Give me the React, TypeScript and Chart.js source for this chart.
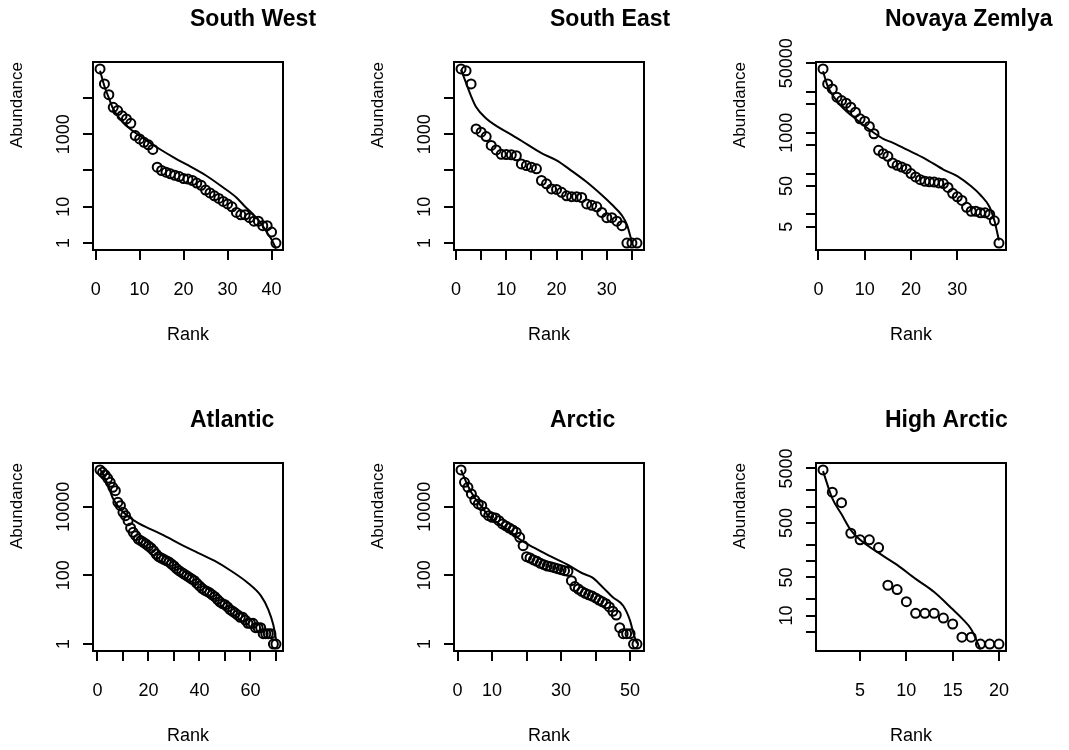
import React, { useEffect, useRef } from "react";
import { Chart, registerables } from "chart.js";

Chart.register(...registerables);

// ---------- data (abundance by rank; fitted curve) ----------
const swAbundance = [63000, 24300, 12300, 5500, 4480, 3240, 2640, 2000, 920, 740, 600, 510, 380, 123, 100, 90, 81, 74, 68, 60, 58, 53, 45, 39, 29, 24, 20, 17, 14, 12, 10, 7, 6, 6, 5, 4, 4, 3, 3, 2, 1];
const swFitRank = [1, 2, 3, 4, 6, 8, 11, 14, 18, 21, 25, 29, 32, 34, 36, 38, 39, 40, 41];
const swFitValue = [56000, 21000, 10000, 5000, 2240, 1350, 760, 430, 220, 140, 74, 34, 18, 10, 5.9, 3.0, 1.9, 1.26, 0.7];

const seAbundance = [63000, 56000, 24400, 1400, 1140, 860, 490, 370, 280, 275, 270, 255, 152, 137, 123, 111, 53, 43, 31, 30, 25, 20, 19, 19, 18, 12, 11, 10, 7, 5, 5, 4, 3, 1, 1, 1];
const seFitRank = [1, 2, 3, 4, 6, 8, 11, 13, 17, 20, 23, 26, 29, 31, 33, 34, 35];
const seFitValue = [60000, 26000, 11200, 5600, 2700, 1700, 980, 660, 300, 190, 98, 48, 21, 11.5, 5.8, 3.2, 1.05];

const nzAbundance = [36400, 15700, 11800, 7400, 6140, 5290, 4230, 3190, 2190, 1920, 1430, 945, 371, 307, 265, 182, 160, 145, 130, 100, 83, 71, 65, 63, 62, 59, 57, 46, 33, 27, 22, 15, 12, 12, 11, 11, 10, 7, 2];
const nzFitRank = [1, 2, 3, 5, 8, 11, 14, 16, 19, 23, 27, 30, 33, 35, 37, 38, 39];
const nzFitValue = [32000, 13800, 8500, 4400, 2200, 1200, 710, 575, 390, 234, 126, 87, 49, 30, 15, 7.2, 2.3];

const atAbundance = [117000, 100000, 83600, 66800, 51100, 36600, 29200, 13400, 10700, 6840, 5470, 3910, 2390, 1790, 1430, 1140, 1020, 915, 818, 715, 625, 523, 418, 350, 320, 292, 267, 245, 214, 187, 156, 137, 122, 109, 98, 87, 78, 70, 58, 49, 42, 37, 34, 31, 27, 24, 20, 17, 15, 14, 12, 10, 9, 8, 7, 6, 6, 5, 4, 4, 4, 3, 3, 3, 2, 2, 2, 2, 1, 1];
const atFitRank = [1, 4, 6, 9, 12, 16, 21, 26, 33, 39, 46, 52, 59, 64, 67, 69, 70];
const atFitValue = [126000, 44700, 17800, 8300, 5250, 3300, 2190, 1450, 776, 468, 263, 141, 60, 26, 10, 3.5, 1.4];

const arAbundance = [117000, 51100, 36600, 23400, 15600, 12000, 10700, 6840, 5470, 4890, 4680, 3910, 3130, 2740, 2390, 2090, 1790, 1280, 731, 350, 320, 280, 256, 224, 205, 187, 179, 167, 156, 146, 137, 131, 70, 47, 40, 34, 30, 27, 25, 22, 19, 17, 15, 12, 9, 7, 3, 2, 2, 2, 1, 1];
const arFitRank = [1, 3, 5, 7, 9, 12, 15, 18, 22, 27, 32, 36, 39, 42, 45, 48, 50, 51, 52];
const arFitValue = [117000, 40000, 17800, 10000, 5250, 3160, 2000, 1120, 650, 355, 200, 117, 87, 46, 23, 13, 4.8, 2, 1.05];

const haAbundance = [4700, 1840, 1180, 324, 245, 245, 177, 36, 30, 18, 11, 11, 11, 9, 7, 4, 4, 3, 3, 3];
const haFitRank = [1, 2, 3, 4, 5, 7, 9, 11, 13, 15, 16, 17, 18];
const haFitValue = [4470, 1410, 720, 370, 245, 141, 85, 47, 27, 13, 8.9, 5.6, 2.4];

// ---------- axis ticks and labels ----------
const swXTicks = [0, 10, 20, 30, 40];
const swXLabels = [0, 10, 20, 30, 40];
const seXTicks = [0, 5, 10, 15, 20, 25, 30, 35];
const seXLabels = [0, 10, 20, 30];
const nzXTicks = [0, 10, 20, 30];
const nzXLabels = [0, 10, 20, 30];
const atXTicks = [0, 10, 20, 30, 40, 50, 60, 70];
const atXLabels = [0, 20, 40, 60];
const arXTicks = [0, 10, 20, 30, 40, 50];
const arXLabels = [0, 10, 30, 50];
const haXTicks = [5, 10, 15, 20];
const haXLabels = [5, 10, 15, 20];

const decadeTicks = [1, 10, 100, 1000, 10000];
const decadeLabels = [1, 10, 1000];
const nzYTicks = [5, 10, 50, 100, 500, 1000, 5000, 10000, 50000];
const nzYLabels = [5, 50, 1000, 50000];
const wideYTicks = [1, 100, 10000];
const wideYLabels = [1, 100, 10000];
const haYTicks = [5, 10, 20, 50, 100, 200, 500, 1000, 2000, 5000];
const haYLabels = [10, 50, 500, 5000];

type Panel = {
  title: string;
  titleX: number;
  left: number;
  top: number;
  abundance: number[];
  fitRank: number[];
  fitValue: number[];
  xTicks: number[];
  xLabels: number[];
  yTicks: number[];
  yLabels: number[];
};

const panels: Panel[] = [
  { title: "South West", titleX: 190, left: 0, top: 0, abundance: swAbundance, fitRank: swFitRank, fitValue: swFitValue, xTicks: swXTicks, xLabels: swXLabels, yTicks: decadeTicks, yLabels: decadeLabels },
  { title: "South East", titleX: 189, left: 361, top: 0, abundance: seAbundance, fitRank: seFitRank, fitValue: seFitValue, xTicks: seXTicks, xLabels: seXLabels, yTicks: decadeTicks, yLabels: decadeLabels },
  { title: "Novaya Zemlya", titleX: 162, left: 723, top: 0, abundance: nzAbundance, fitRank: nzFitRank, fitValue: nzFitValue, xTicks: nzXTicks, xLabels: nzXLabels, yTicks: nzYTicks, yLabels: nzYLabels },
  { title: "Atlantic", titleX: 190, left: 0, top: 401, abundance: atAbundance, fitRank: atFitRank, fitValue: atFitValue, xTicks: atXTicks, xLabels: atXLabels, yTicks: wideYTicks, yLabels: wideYLabels },
  { title: "Arctic", titleX: 189, left: 361, top: 401, abundance: arAbundance, fitRank: arFitRank, fitValue: arFitValue, xTicks: arXTicks, xLabels: arXLabels, yTicks: wideYTicks, yLabels: wideYLabels },
  { title: "High Arctic", titleX: 162, left: 723, top: 401, abundance: haAbundance, fitRank: haFitRank, fitValue: haFitValue, xTicks: haXTicks, xLabels: haXLabels, yTicks: haYTicks, yLabels: haYLabels },
];

const FONT = '"Liberation Sans", Arial, Helvetica, sans-serif';
const CANVAS_W = 346;
const CANVAS_H = 349;

function makePanelPlugin(p: Panel) {
  return {
    id: "panelDecor",
    afterDraw(chart: any) {
      const { ctx, chartArea } = chart;
      ctx.save();
      // box around the plot region
      ctx.strokeStyle = "#000";
      ctx.lineWidth = 2;
      ctx.strokeRect(chartArea.left, chartArea.top, chartArea.right - chartArea.left, chartArea.bottom - chartArea.top);
      // main title
      ctx.fillStyle = "#000";
      ctx.font = `bold 23px ${FONT}`;
      ctx.textAlign = "left";
      ctx.textBaseline = "middle";
      ctx.fillText(p.title, p.titleX, 20);
      // rotated y tick labels
      const ys = chart.scales.y;
      ctx.font = `18px ${FONT}`;
      ctx.textAlign = "center";
      ctx.textBaseline = "middle";
      for (const v of p.yLabels) {
        const py = ys.getPixelForValue(v);
        ctx.save();
        ctx.translate(chartArea.left - 29, py);
        ctx.rotate(-Math.PI / 2);
        ctx.fillText(String(v), 0, 0);
        ctx.restore();
      }
      ctx.restore();
    },
  };
}

function PanelChart({ p }: { p: Panel }) {
  const ref = useRef<HTMLCanvasElement | null>(null);
  useEffect(() => {
    if (!ref.current) return;
    const n = p.abundance.length;
    const xPad = 0.04 * (n - 1);
    const lmin = Math.log10(Math.min(...p.abundance));
    const lmax = Math.log10(Math.max(...p.abundance));
    const yPad = 0.04 * (lmax - lmin);
    const chart = new Chart(ref.current, {
      type: "scatter",
      data: {
        datasets: [
          {
            data: p.abundance.map((v, i) => ({ x: i + 1, y: v })),
            showLine: false,
            pointRadius: 4.5,
            pointHoverRadius: 4.5,
            borderWidth: 2,
            borderColor: "#000",
            backgroundColor: "rgba(0,0,0,0)",
          },
          {
            data: p.fitRank.map((r, i) => ({ x: r, y: p.fitValue[i] })),
            showLine: true,
            pointRadius: 0,
            borderWidth: 2,
            borderColor: "#000",
            backgroundColor: "rgba(0,0,0,0)",
            cubicInterpolationMode: "monotone",
          },
        ],
      },
      options: {
        animation: false,
        responsive: false,
        devicePixelRatio: 1,
        events: [],
        layout: { padding: { left: 7, top: 62, right: 63, bottom: 3 } },
        plugins: { legend: { display: false }, tooltip: { enabled: false }, title: { display: false } },
        scales: {
          x: {
            type: "linear",
            bounds: "data",
            min: 1 - xPad,
            max: n + xPad,
            afterBuildTicks: (s: any) => {
              s.ticks = p.xTicks.map((v) => ({ value: v }));
            },
            afterFit: (s: any) => {
              s.height = 96;
              s.paddingLeft = 0;
              s.paddingRight = 0;
            },
            grid: { drawOnChartArea: false, drawTicks: true, tickLength: 10, color: "#000", lineWidth: 2 },
            border: { display: false },
            ticks: {
              autoSkip: false,
              maxRotation: 0,
              minRotation: 0,
              padding: 19,
              color: "#000",
              font: { family: FONT, size: 18 },
              callback: (v: any) => (p.xLabels.includes(Number(v)) ? String(v) : ""),
            },
            title: { display: true, text: "Rank", color: "#000", font: { family: FONT, size: 18 }, padding: 0 },
          },
          y: {
            type: "logarithmic",
            bounds: "data",
            min: Math.pow(10, lmin - yPad),
            max: Math.pow(10, lmax + yPad),
            afterBuildTicks: (s: any) => {
              s.ticks = p.yTicks.map((v) => ({ value: v }));
            },
            afterFit: (s: any) => {
              s.width = 86;
              s.paddingTop = 0;
              s.paddingBottom = 0;
            },
            grid: { drawOnChartArea: false, drawTicks: true, tickLength: 10, color: "#000", lineWidth: 2 },
            border: { display: false },
            ticks: { display: false },
            title: { display: true, text: "Abundance", align: "end", color: "#000", font: { family: FONT, size: 17 }, padding: 0 },
          },
        },
      },
      plugins: [makePanelPlugin(p)],
    } as any);
    return () => chart.destroy();
  }, [p]);
  return (
    <canvas
      ref={ref}
      width={CANVAS_W}
      height={CANVAS_H}
      style={{ position: "absolute", left: p.left, top: p.top, width: CANVAS_W, height: CANVAS_H }}
    />
  );
}

export default function App() {
  return (
    <div style={{ position: "absolute", left: 0, top: 0, width: 1069, height: 750, overflow: "hidden", background: "#fff" }}>
      {panels.map((p) => (
        <PanelChart key={p.title} p={p} />
      ))}
    </div>
  );
}
